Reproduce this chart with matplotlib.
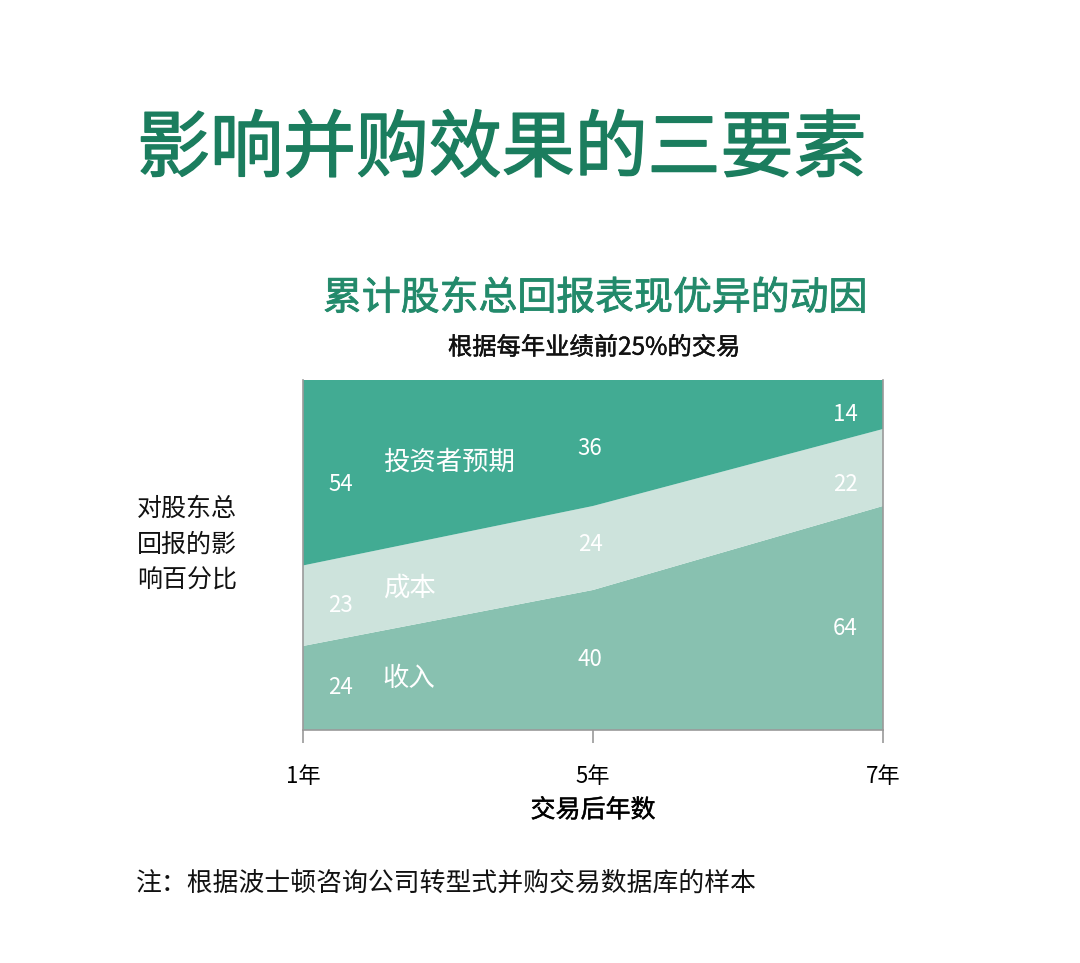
import matplotlib
matplotlib.use("Agg")
import matplotlib.pyplot as plt
import matplotlib.patheffects as pe
import numpy as np

plt.rcParams["font.family"] = ["Noto Sans CJK SC", "DejaVu Sans"]

# --------------------------------------------------
# DATA
# --------------------------------------------------
years = ["1年", "5年", "7年"]
revenue = [24, 40, 64]        # 收入
cost = [23, 24, 22]           # 成本
expectation = [54, 36, 14]    # 投资者预期
series_names = ["收入", "成本", "投资者预期"]

# --------------------------------------------------
# STYLE
# --------------------------------------------------
C_TOP = "#42ab93"
C_MID = "#cde3dc"
C_BOT = "#88c1b0"
C_TITLE = "#1b7d5e"
C_SUB = "#238a6b"
C_AXIS = "#9a9a9a"


def thicken(color, lw):
    # fake a medium weight: regular glyphs with an outline of the same colour
    return [pe.withStroke(linewidth=lw, foreground=color)]


fig = plt.figure(figsize=(10.8, 9.63), dpi=100)
ax = fig.add_axes([0.2806, 0.2420, 0.537, 0.3634])

x = np.arange(len(years))
ax.stackplot(x, revenue, cost, expectation,
             colors=[C_BOT, C_MID, C_TOP], linewidth=0)
ax.set_xlim(0, 2)
ax.set_ylim(0, 100)

# value labels inside bands
lows = np.zeros(3)
x_shift = [0.13, -0.01, -0.13]
y_adj = [[0, 0, -3], [0, 1, -5], [-4, -1.5, -3]]
for k, vals in enumerate([revenue, cost, expectation]):
    vals = np.array(vals)
    mids = lows + vals / 2
    for i in range(3):
        ax.text(x[i] + x_shift[i], mids[i] + y_adj[k][i], str(vals[i]),
                color="white", fontsize=16, ha="center", va="center")
    lows = lows + vals

# series names
ax.text(0.275, 76.6, series_names[2], color="white", fontsize=19,
        ha="left", va="center")
ax.text(0.275, 40.6, series_names[1], color="white", fontsize=19,
        ha="left", va="center")
ax.text(0.275, 14.6, series_names[0], color="white", fontsize=19,
        ha="left", va="center")

# axes look
for s in ["left", "right", "bottom"]:
    ax.spines[s].set_color(C_AXIS)
    ax.spines[s].set_linewidth(1.2)
ax.spines["top"].set_visible(False)
ax.set_yticks([])
ax.set_xticks(x)
ax.set_xticklabels(years, fontsize=16)
ax.tick_params(axis="x", direction="out", length=9, width=1.2,
               color=C_AXIS, pad=16)
xl = ax.set_xlabel("交易后年数", fontsize=18, labelpad=7)
xl.set_path_effects(thicken("#111111", 0.35))

# --------------------------------------------------
# TEXT
# --------------------------------------------------
fig.text(0.127, 0.844, "影响并购效果的三要素", fontsize=52.5,
         color=C_TITLE, ha="left", va="center",
         path_effects=thicken(C_TITLE, 1.1))
fig.text(0.551, 0.690, "累计股东总回报表现优异的动因", fontsize=28,
         color=C_SUB, ha="center", va="center",
         path_effects=thicken(C_SUB, 0.6))
fig.text(0.550, 0.639, "根据每年业绩前25%的交易", fontsize=17.5,
         color="#111111", ha="center", va="center",
         path_effects=thicken("#111111", 0.35))
fig.text(0.127, 0.434, "对股东总\n回报的影\n响百分比", fontsize=18,
         color="#111111", ha="left", va="center", linespacing=1.5)
fig.text(0.126, 0.083, "注：根据波士顿咨询公司转型式并购交易数据库的样本",
         fontsize=18.6, color="#111111", ha="left", va="center")

fig.savefig("out.png", dpi=100, facecolor="white")
